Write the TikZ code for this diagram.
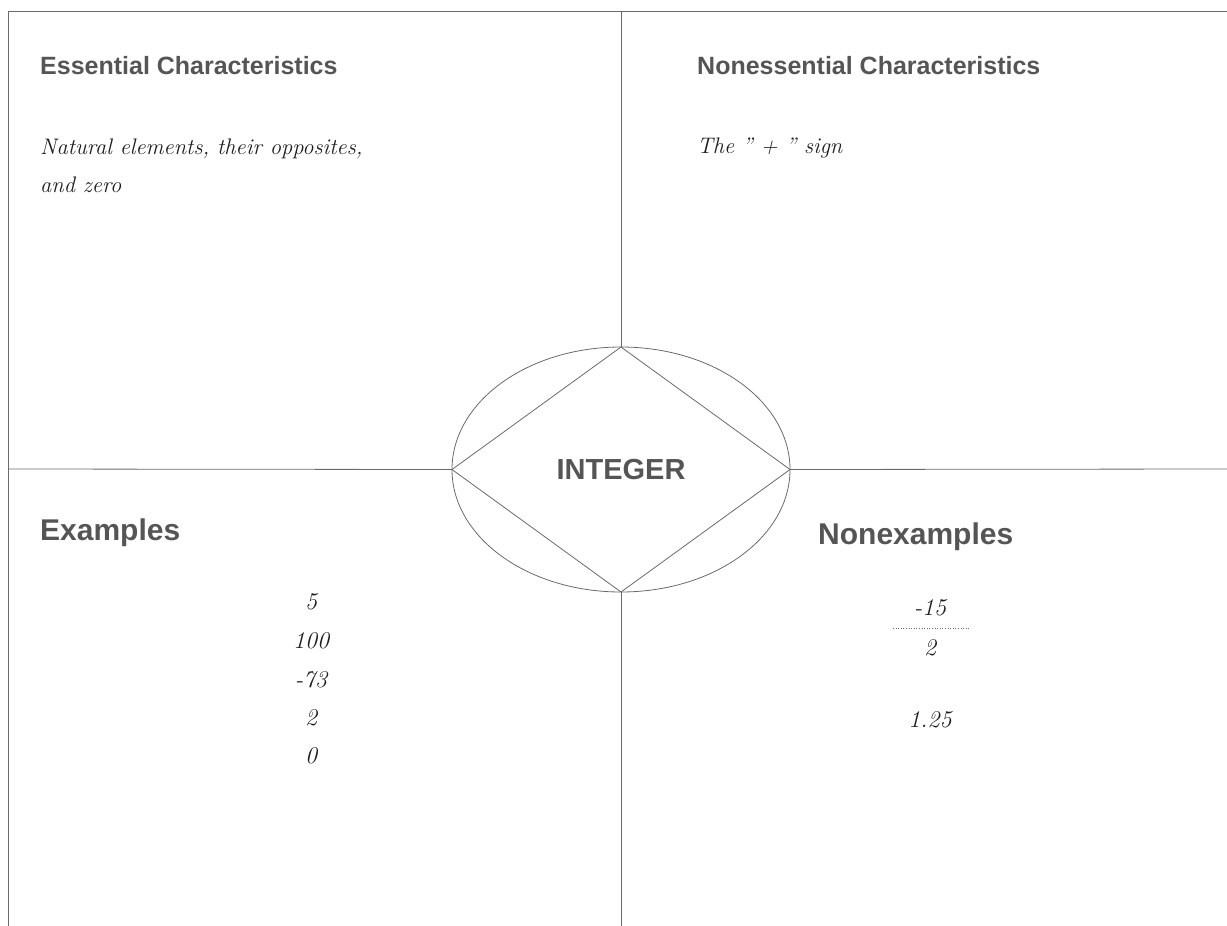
\documentclass[tikz,border=0pt]{standalone}
\usepackage{fontspec}
\usetikzlibrary{shapes.geometric}
\newfontfamily\headfont{Liberation Sans}[BoldFont={Liberation Sans Bold}]
\definecolor{headgray}{HTML}{555555}
\definecolor{linegray}{HTML}{6A6A6A}
\definecolor{inkgray}{HTML}{1E1E1E}
\tikzset{
  frame/.style={draw=linegray, line width=0.8pt},
  heading/.style={anchor=west, inner sep=0pt, text=headgray, font=\headfont\bfseries\fontsize{25}{30}\selectfont},
  bigheading/.style={anchor=west, inner sep=0pt, text=headgray, font=\headfont\bfseries\fontsize{30}{34}\selectfont},
  hand/.style={anchor=west, inner sep=0pt, text=inkgray, align=left, font=\itshape\fontsize{22.5}{38}\selectfont},
  num/.style={inner sep=0pt, text=inkgray, font=\itshape\fontsize{24}{28}\selectfont},
  core/.style={ellipse, draw=linegray, line width=0.8pt, minimum width=338pt, minimum height=245pt, inner sep=0pt, outer sep=0pt, text=headgray, font=\headfont\bfseries\fontsize{29}{34}\selectfont}
}
\begin{document}
\begin{tikzpicture}[x=1pt,y=-1pt]
\useasboundingbox (0,0) rectangle (1227,926);
% frame
\coordinate (tl) at (8,11);
\coordinate (tr) at (1227,11);
\coordinate (bl) at (8,926);
\coordinate (vt) at (621,11);
\coordinate (vb) at (621,926);
\coordinate (hl) at (8,469);
\coordinate (hr) at (1227,469);
\draw[frame] (tr) -- (tl) -- (bl);
% center
\node[core] (center) at (621,469.5) {INTEGER};
\draw[frame] (center.north) -- (center.east) -- (center.south) -- (center.west) -- cycle;
\draw[frame] (vt) -- (center.north);
\draw[frame] (center.south) -- (vb);
\draw[frame] (hl) -- (center.west);
\draw[frame] (center.east) -- (hr);
% headings
\node[heading] (ess) at (40,66) {Essential Characteristics};
\node[heading] (noness) at (697,66) {Nonessential Characteristics};
\node[bigheading] (ex) at (40,533) {Examples};
\node[bigheading] (nonex) at (818,537) {Nonexamples};
% handwritten content
\node[hand] (esstext) at (40,166) {Natural elements, their opposites,\\and zero};
\node[hand] (nonesstext) at (697,148) {The ''~+~'' sign};
% examples
\node[num] (e1) at (311,602) {5};
\node[num] (e2) at (311,641) {100};
\node[num] (e3) at (311,680) {-73};
\node[num] (e4) at (311,718) {2};
\node[num] (e5) at (311,756) {0};
% nonexamples
\node[num] (n1) at (930,608) {-15};
\node[num] (n2) at (930,648) {2};
\coordinate (fl) at (893,628);
\coordinate (fr) at (970,628);
\draw[draw=linegray, line width=0.6pt, dotted] (fl) -- (fr);
\node[num] (n3) at (930,720) {1.25};
\end{tikzpicture}
\end{document}
